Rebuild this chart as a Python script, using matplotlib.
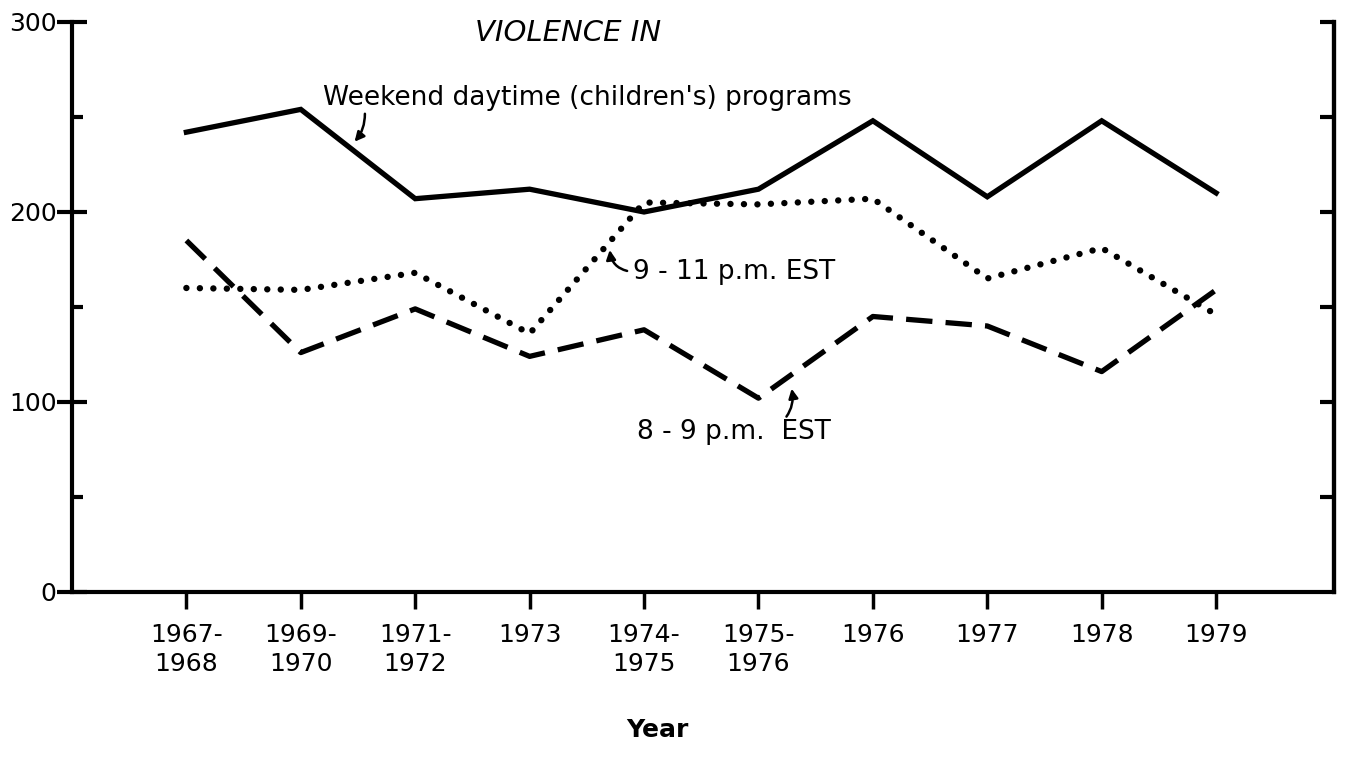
import numpy as np
import matplotlib
matplotlib.use("Agg")
from matplotlib import pyplot as plt
from matplotlib.ticker import MultipleLocator

years = ["1967-\n1968", "1969-\n1970", "1971-\n1972", "1973", "1974-\n1975",
         "1975-\n1976", "1976", "1977", "1978", "1979"]
weekend = [242, 254, 207, 212, 200, 212, 248, 208, 248, 210]
late = [160, 159, 168, 136, 205, 204, 207, 165, 181, 146]
early = [185, 126, 149, 124, 138, 102, 145, 140, 116, 159]

plt.rcParams['font.family'] = ['DejaVu Sans']

fig = plt.figure(figsize=(13.45, 7.69), dpi=100)
ax = fig.add_axes([0.0535, 0.2302, 0.9383, 0.7412])
x = np.arange(len(years))

ax.plot(x, weekend, color='black', lw=3.8, solid_joinstyle='miter')
ax.plot(x, late, color='black', lw=4.6, linestyle=(0, (0.01, 2.1)),
        dash_capstyle='round')
ax.plot(x, early, color='black', lw=3.8, linestyle=(0, (5, 2.5)),
        dash_capstyle='butt')

ax.set_xlim(-1.0, 10.03)
ax.set_ylim(0, 300)

ax.spines['top'].set_visible(False)
for s in ['left', 'right', 'bottom']:
    ax.spines[s].set_linewidth(3)

ax.set_xticks(x)
ax.set_xticklabels(years, fontsize=18, linespacing=1.3)
ax.tick_params(axis='x', direction='out', length=12, width=2.5, pad=10)

ax.set_yticks([0, 100, 200, 300])
ax.set_yticklabels(['0', '100', '200', '300'], fontsize=18)
ax.yaxis.set_minor_locator(MultipleLocator(50))
ax.tick_params(axis='y', which='major', direction='inout', length=22, width=3,
               pad=0, left=True, right=False)
ax.tick_params(axis='y', which='minor', direction='in', length=8, width=3,
               left=True, right=False)

ax2 = ax.twinx()
ax2.set_ylim(0, 300)
ax2.set_yticks(np.arange(50, 301, 50))
ax2.set_yticklabels([])
ax2.tick_params(axis='y', direction='in', length=10, width=3)
for s in ['top', 'left', 'bottom']:
    ax2.spines[s].set_visible(False)
ax2.spines['right'].set_linewidth(3)

ax.text(2.52, 294, "VIOLENCE IN", fontsize=21, style='italic', va='center',
        ha='left')

ax.annotate("Weekend daytime (children's) programs", xy=(1.47, 237),
            xytext=(1.19, 260), fontsize=19, va='center', ha='left',
            arrowprops=dict(arrowstyle='-|>', color='black', lw=1.8,
                            shrinkA=0, shrinkB=0,
                            connectionstyle='arc3,rad=-0.2',
                            mutation_scale=14,
                            relpos=(0.08, 0.0)))

ax.annotate("9 - 11 p.m. EST", xy=(3.70, 180), xytext=(3.90, 168.5),
            fontsize=19, va='center', ha='left',
            arrowprops=dict(arrowstyle='-|>', color='black', lw=1.8,
                            shrinkA=2, shrinkB=0,
                            connectionstyle='arc3,rad=-0.4',
                            mutation_scale=14, relpos=(0.0, 0.5)))

ax.annotate("8 - 9 p.m.  EST", xy=(5.29, 107), xytext=(3.94, 84),
            fontsize=19, va='center', ha='left',
            arrowprops=dict(arrowstyle='-|>', color='black', lw=1.8,
                            shrinkA=0, shrinkB=0,
                            connectionstyle='arc3,rad=0.35',
                            mutation_scale=14, relpos=(0.7, 0.65)))

fig.text(0.489, 0.051, "Year", fontsize=18, fontweight='bold', ha='center',
         va='center')

fig.savefig("out.png", dpi=100, facecolor='white')
